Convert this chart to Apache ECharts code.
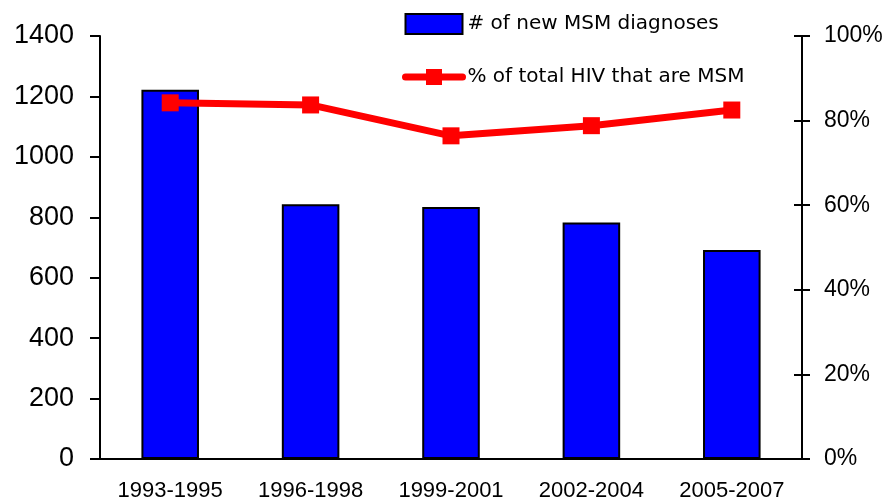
<!DOCTYPE html>
<html>
<head>
<meta charset="utf-8">
<script src="https://cdn.jsdelivr.net/npm/echarts@6/dist/echarts.min.js"></script>
<style>
  html, body { margin: 0; padding: 0; background: #fff; }
  #chart { width: 888px; height: 502px; }
</style>
</head>
<body>
<div id="chart"></div>
<script>
// periods on the x axis
const categories = ['1993-1995', '1996-1998', '1999-2001', '2002-2004', '2005-2007']
// bars, left axis
const newDiagnoses = [1222, 843, 834, 783, 692]
// line, right axis (percent)
const pctMsm = [84.2, 83.7, 76.4, 78.8, 82.5]

const barName = '# of new MSM diagnoses'
const lineName = '% of total HIV that are MSM'

const chart = echarts.init(document.getElementById('chart'))

const options = {
  animation: false,
  backgroundColor: '#fff',
  grid: {
    left: 100,
    right: 86,
    top: 36,
    bottom: 43,
    outerBoundsMode: 'none'
  },
  legend: {
    orient: 'vertical',
    left: 402,
    top: 13,
    padding: 0,
    itemWidth: 57,
    itemHeight: 20,
    itemGap: 32,
    textStyle: {
      fontFamily: 'DejaVu Sans',
      fontSize: 20,
      color: '#000'
    },
    data: [
      { name: barName, icon: 'rect' },
      { name: lineName, lineStyle: { width: 7, color: '#FF0000', cap: 'round' } }
    ]
  },
  xAxis: {
    type: 'category',
    data: categories,
    axisLine: { lineStyle: { color: '#000', width: 2 } },
    axisTick: { length: 8, lineStyle: { color: '#000', width: 2 } },
    axisLabel: {
      margin: 21,
      color: '#000',
      fontFamily: 'Liberation Sans',
      fontSize: 22
    }
  },
  yAxis: [
    {
      type: 'value',
      min: 0,
      max: 1400,
      interval: 200,
      axisLine: { show: true, lineStyle: { color: '#000', width: 2 } },
      axisTick: { show: true, length: 10, lineStyle: { color: '#000', width: 2 } },
      splitLine: { show: false },
      axisLabel: {
        margin: 26,
        formatter: function (v) { return String(v) },
        color: '#000',
        fontFamily: 'Liberation Sans',
        fontSize: 27
      }
    },
    {
      type: 'value',
      position: 'right',
      min: 0,
      max: 100,
      interval: 20,
      axisLine: { show: true, lineStyle: { color: '#000', width: 2 } },
      axisTick: { show: true, length: 8, lineStyle: { color: '#000', width: 2 } },
      splitLine: { show: false },
      axisLabel: {
        margin: 22,
        formatter: '{value}%',
        color: '#000',
        fontFamily: 'Liberation Sans',
        fontSize: 23
      }
    },
    {
      // inner half of the right axis ticks (they cross the line)
      type: 'value',
      position: 'right',
      min: 0,
      max: 100,
      interval: 20,
      axisLine: { show: false },
      axisTick: { show: true, inside: true, length: 8, lineStyle: { color: '#000', width: 2 } },
      axisLabel: { show: false },
      splitLine: { show: false }
    }
  ],
  series: [
    {
      name: barName,
      type: 'bar',
      yAxisIndex: 0,
      barWidth: '41%',
      data: newDiagnoses,
      itemStyle: {
        color: '#0000FF',
        borderColor: '#000',
        borderWidth: 2
      }
    },
    {
      name: lineName,
      type: 'line',
      yAxisIndex: 1,
      data: pctMsm,
      symbol: 'rect',
      symbolSize: 17,
      lineStyle: { color: '#FF0000', width: 7 },
      itemStyle: { color: '#FF0000' },
      z: 3
    }
  ]
}

chart.setOption(options)
</script>
</body>
</html>
